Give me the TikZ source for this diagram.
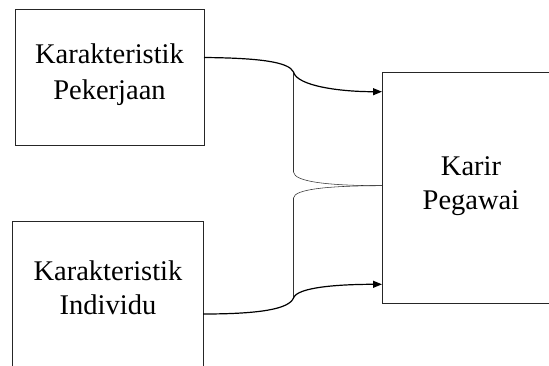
\documentclass[tikz,border=0pt]{standalone}
\usepackage{fontspec}
\setmainfont{Liberation Serif}
\usetikzlibrary{arrows.meta}
\tikzset{
  boxshape/.style={draw=black!85, line width=1pt, rectangle, inner sep=0pt},
  lbl/.style={anchor=base, inner sep=0pt, font=\fontsize{28.5}{34}\selectfont},
  thick link/.style={draw=black, line width=1.2pt},
  thin link/.style={draw=black!80, line width=0.55pt},
  tip/.style={-{Triangle[length=9pt,width=7pt]}}
}
\begin{document}
\begin{tikzpicture}[x=1pt,y=-1pt]
\clip (0,0) rectangle (549,365);
\fill[white] (0,0) rectangle (549,365);
% boxes
\node[boxshape, minimum width=189pt, minimum height=136pt] (b1) at (109.5,77) {};
\node[boxshape, minimum width=191pt, minimum height=160pt] (b2) at (107.5,301) {};
\node[boxshape, minimum width=190pt, minimum height=231pt] (b3) at (477,187.5) {};
% labels
\node[lbl] (t1a) at (109.5,63) {Karakteristik};
\node[lbl] (t1b) at (109.5,99) {Pekerjaan};
\node[lbl] (t2a) at (108,280) {Karakteristik};
\node[lbl] (t2b) at (108,314) {Individu};
\node[lbl] (t3a) at (471,175) {Karir};
\node[lbl] (t3b) at (471,209) {Pegawai};
% connector points
\coordinate (s1) at (204,57.5);
\coordinate (c1) at (293.5,72);
\coordinate (a1) at (382,91.7);
\coordinate (v1) at (293.5,172);
\coordinate (m) at (382,185.7);
\coordinate (v2) at (293.5,198);
\coordinate (c2) at (293.5,298);
\coordinate (s2) at (203,314);
\coordinate (a2) at (382,284.3);
% thin brace lines
\draw[thin link] (c1) -- (v1) .. controls (294,182) and (330,185.7) .. (m);
\draw[thin link] (m) .. controls (330,185.7) and (294,189) .. (v2) -- (c2);
% thick arrows
\draw[thick link, tip] (s1) .. controls (260,58) and (289,62) .. (c1) .. controls (297,86) and (340,91.7) .. (a1);
\draw[thick link, tip] (s2) .. controls (260,314) and (289,309) .. (c2) .. controls (297,287) and (340,284.3) .. (a2);
\end{tikzpicture}
\end{document}
